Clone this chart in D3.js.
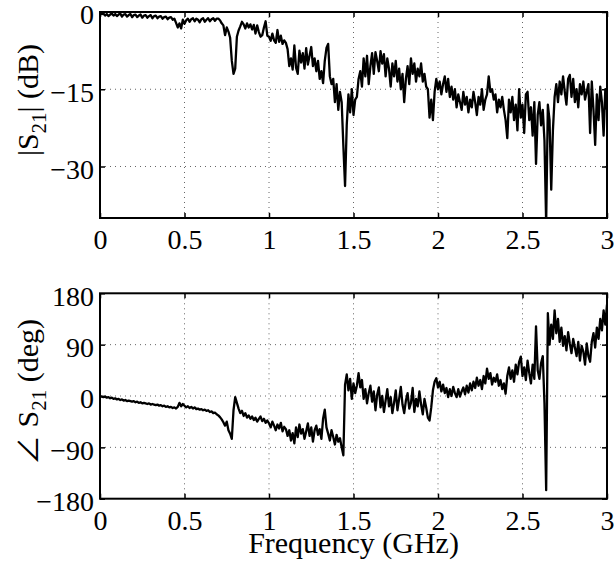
<!DOCTYPE html>
<html>
<head>
<meta charset="utf-8">
<script src="https://cdnjs.cloudflare.com/ajax/libs/d3/7.8.5/d3.min.js"></script>
<style>
  body { margin: 0; background: #fff; }
  svg { display: block; }
  svg text { font-family: "Liberation Serif", "Times New Roman", Times, serif; }
</style>
</head>
<body>
<div id="container"></div>
<script>
// frequency sweep: 0 .. 3 GHz, one sample every 10 MHz
const fStep = 0.01

const xTicks = [0, 0.5, 1, 1.5, 2, 2.5, 3]
const magTicks = [0, -15, -30]
const phaseTicks = [-180, -90, 0, 90, 180]

// |S21| in dB
const magDb = [
  -0.2,-0.4,-0.3,-0.7,-0.4,-0.8,-0.5,-0.3,-0.7,-0.4,
  -0.8,-0.5,-0.3,-0.9,-0.5,-0.4,-0.9,-0.6,-0.4,-1.0,
  -0.6,-0.5,-1.0,-0.7,-0.5,-1.1,-0.7,-0.6,-1.1,-0.8,
  -0.6,-1.2,-0.8,-0.7,-1.2,-0.9,-0.8,-1.3,-1.0,-0.9,
  -1.4,-1.1,-1.0,-1.5,-1.3,-2.1,-3.0,-2.2,-3.2,-1.5,
  -2.3,-1.6,-1.3,-1.9,-1.4,-1.2,-1.8,-1.3,-1.5,-2.0,
  -1.4,-1.2,-1.9,-1.5,-1.2,-1.8,-1.4,-1.2,-1.7,-1.3,
  -1.3,-1.6,-2.2,-2.6,-4.5,-3.0,-3.8,-5.0,-9.5,-12.0,
  -11.0,-4.8,-3.6,-2.8,-1.9,-2.4,-3.2,-2.2,-3.0,-2.4,
  -3.4,-2.5,-4.2,-2.6,-3.9,-4.8,-4.5,-3.0,-1.8,-4.6,
  -4.8,-5.6,-4.2,-5.5,-6.0,-3.5,-5.8,-4.6,-6.2,-5.5,
  -6.0,-7.2,-10.5,-9.0,-11.2,-6.5,-10.8,-12.0,-7.5,-9.8,
  -8.0,-11.0,-7.0,-10.2,-8.5,-6.8,-10.5,-9.0,-11.5,-9.5,
  -13.0,-11.5,-13.8,-9.5,-7.0,-6.2,-12.5,-14.0,-13.0,-17.5,
  -14.0,-19.0,-15.5,-17.5,-26.0,-33.8,-22.0,-16.0,-19.5,-15.0,
  -20.0,-17.0,-16.5,-13.0,-11.5,-14.5,-9.0,-12.5,-8.5,-14.0,
  -10.5,-8.0,-12.0,-7.8,-9.5,-11.5,-7.6,-10.0,-8.2,-12.5,
  -9.0,-11.0,-14.5,-10.0,-12.5,-9.5,-13.5,-11.0,-15.0,-12.0,
  -17.5,-13.0,-10.5,-14.0,-9.0,-12.0,-10.0,-13.5,-11.0,-12.5,
  -10.0,-13.5,-12.0,-14.5,-15.0,-20.5,-17.0,-21.0,-15.5,-13.0,
  -15.0,-13.5,-16.0,-14.0,-12.5,-15.5,-13.0,-16.5,-14.5,-17.0,
  -15.0,-18.5,-16.0,-17.5,-19.0,-15.5,-18.0,-16.5,-19.5,-17.0,
  -18.5,-15.5,-17.5,-20.0,-16.5,-18.0,-15.0,-19.0,-17.0,-16.0,
  -12.5,-15.5,-15.0,-17.0,-16.0,-19.5,-17.0,-18.5,-16.5,-19.0,
  -21.0,-24.5,-17.0,-19.5,-16.5,-21.0,-18.0,-23.0,-15.0,-20.5,
  -18.0,-23.5,-16.0,-15.5,-21.0,-18.5,-24.0,-17.5,-29.5,-20.0,
  -17.5,-22.0,-19.0,-25.0,-41.0,-18.0,-21.0,-34.5,-23.0,-16.5,
  -14.0,-17.5,-13.5,-16.0,-12.5,-15.5,-18.0,-13.0,-12.2,-16.5,
  -13.0,-17.5,-15.0,-18.5,-14.0,-16.0,-13.5,-17.0,-15.5,-14.0,
  -23.5,-13.5,-19.0,-25.8,-16.0,-21.0,-14.5,-17.5,-24.0,-15.0,
  -19.0
]

// angle of S21 in degrees
const phaseDeg = [
  0,-1,-2,-1,-3,-2,-4,-3,-5,-4,
  -6,-5,-7,-6,-8,-7,-9,-8,-9,-10,
  -9,-11,-10,-12,-11,-13,-12,-13,-14,-13,
  -15,-14,-15,-16,-15,-17,-16,-18,-17,-19,
  -18,-20,-19,-21,-20,-22,-19,-12,-18,-14,
  -17,-20,-18,-21,-19,-22,-20,-23,-22,-24,
  -23,-25,-24,-26,-25,-28,-27,-30,-29,-32,
  -34,-37,-41,-46,-52,-45,-60,-66,-75,-25,
  -2,-12,-22,-30,-26,-35,-30,-38,-34,-40,
  -36,-42,-38,-45,-40,-36,-44,-40,-47,-43,
  -48,-55,-45,-52,-60,-50,-57,-47,-62,-54,
  -58,-70,-60,-78,-65,-83,-55,-72,-50,-66,
  -58,-75,-62,-48,-70,-55,-80,-60,-52,-68,
  -58,-75,-40,-24,-55,-66,-78,-60,-72,-85,
  -68,-80,-74,-90,-104,20,38,10,30,-5,
  22,5,18,40,15,28,-5,12,-13,5,
  18,-10,8,-25,2,15,-20,0,-28,-8,
  12,-18,-2,-30,-12,10,-25,-5,16,-15,
  -30,-8,5,-22,-12,14,-28,-5,-18,8,
  -15,-32,-5,-20,-38,-43,-20,10,25,31,
  15,25,8,20,5,14,-2,12,0,16,
  5,-2,12,-1,8,15,3,18,6,22,
  10,25,14,32,18,28,12,35,22,48,
  30,40,20,32,25,38,18,28,12,22,
  4,35,50,30,45,25,55,38,60,69,
  35,50,28,62,40,22,55,30,122,45,
  30,58,70,-13,-165,145,90,125,100,150,
  110,135,95,120,88,105,80,112,92,75,
  100,85,70,95,62,88,78,55,92,70,
  60,95,110,85,120,100,135,115,150,125,
  160
]

const width = 614, height = 563
const plotLeft = 100, plotRight = 607
const minus = d => d < 0 ? "\u2212" + Math.abs(d) : String(d)

const svg = d3.select("div#container").append("svg")
    .attr("width", width)
    .attr("height", height)

const xScale = d3.scaleLinear().domain([0, 3]).range([plotLeft, plotRight])

function drawPanel(id, values, yDomain, yTicks, top, bottom, labelY, labelParts) {
    const yScale = d3.scaleLinear().domain(yDomain).range([bottom, top])
    const g = svg.append("g")

    g.append("clipPath").attr("id", id)
        .append("rect")
        .attr("x", plotLeft).attr("y", top)
        .attr("width", plotRight - plotLeft).attr("height", bottom - top)

    // dotted grid
    g.selectAll(".vgrid").data(xTicks.slice(1, -1)).join("line")
        .attr("x1", d => xScale(d)).attr("x2", d => xScale(d))
        .attr("y1", top).attr("y2", bottom)
        .attr("stroke", "#666").attr("stroke-width", 1)
        .attr("stroke-dasharray", "1,4")
    g.selectAll(".hgrid").data(yTicks.filter(d => d > yDomain[0] && d < yDomain[1])).join("line")
        .attr("x1", plotLeft).attr("x2", plotRight)
        .attr("y1", d => yScale(d)).attr("y2", d => yScale(d))
        .attr("stroke", "#666").attr("stroke-width", 1)
        .attr("stroke-dasharray", "1,4")

    // the trace
    g.append("path")
        .datum(values)
        .attr("clip-path", "url(#" + id + ")")
        .attr("fill", "none")
        .attr("stroke", "#000")
        .attr("stroke-width", 2.3)
        .attr("stroke-linejoin", "round")
        .attr("d", d3.line()
            .x((d, i) => xScale(i * fStep))
            .y(d => yScale(d)))

    // axes, ticks pointing inward like matlab
    g.append("g")
        .attr("transform", "translate(0," + bottom + ")")
        .call(d3.axisBottom(xScale).tickValues(xTicks).tickFormat(d => d)
            .tickSizeInner(-5).tickSizeOuter(0).tickPadding(11))
    const yaxis = g.append("g")
        .attr("transform", "translate(" + plotLeft + ",0)")
        .call(d3.axisLeft(yScale).tickValues(yTicks).tickFormat(minus)
            .tickSizeInner(-5).tickSizeOuter(0).tickPadding(6))
    g.append("g")
        .attr("transform", "translate(0," + top + ")")
        .call(d3.axisTop(xScale).tickValues(xTicks).tickFormat("")
            .tickSizeInner(-5).tickSizeOuter(0))
    g.append("g")
        .attr("transform", "translate(" + plotRight + ",0)")
        .call(d3.axisRight(yScale).tickValues(yTicks).tickFormat("")
            .tickSizeInner(-5).tickSizeOuter(0))

    g.selectAll(".domain").remove()
    g.selectAll(".tick line").attr("stroke-width", 1.5)
    g.selectAll(".tick text")
        .style("font-family", '"Liberation Serif", "Times New Roman", serif')
        .style("font-size", "28px")
        .attr("fill", "#000")
    yaxis.selectAll(".tick text").attr("dy", "0.42em")

    g.append("rect")
        .attr("x", plotLeft).attr("y", top)
        .attr("width", plotRight - plotLeft).attr("height", bottom - top)
        .attr("fill", "none").attr("stroke", "#000").attr("stroke-width", 2)

    // rotated y label with subscript
    const label = g.append("text")
        .attr("transform", "translate(38," + labelY + ")rotate(-90)")
        .attr("text-anchor", "middle")
        .style("font-size", "30px")
    labelParts[0].forEach(p => label.append("tspan").style("font-family", p.font).text(p.text))
    label.append("tspan").attr("dy", 8).style("font-size", "21px").text("21")
    label.append("tspan").attr("dy", -8).text(labelParts[1])
}

drawPanel("clipMag", magDb, [-40, 0], magTicks, 12, 218, 100,
    [[{ text: "|S", font: null }], "| (dB)"])
drawPanel("clipPhase", phaseDeg, [-180, 180], phaseTicks, 293.3, 498.7, 392,
    [[{ text: "\u2220", font: '"Noto Sans CJK JP", "DejaVu Sans", sans-serif' }, { text: " S", font: null }], " (deg)"])

svg.append("text")
    .attr("x", (plotLeft + plotRight) / 2)
    .attr("y", 553)
    .attr("text-anchor", "middle")
    .style("font-size", "30px")
    .text("Frequency (GHz)")
</script>
</body>
</html>
